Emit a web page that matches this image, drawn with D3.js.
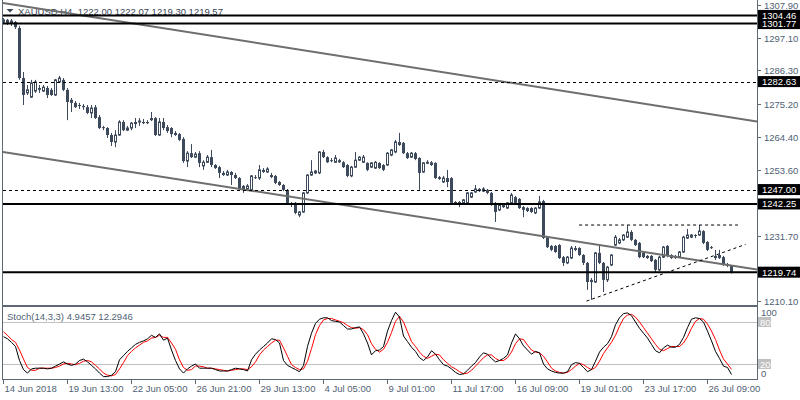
<!DOCTYPE html>
<html><head><meta charset="utf-8">
<script src="https://cdn.jsdelivr.net/npm/d3@7"></script>
<style>
body{margin:0;background:#fff}
svg{display:block}
text{font-family:'Liberation Sans',Arial,sans-serif;font-size:9.5px;white-space:pre}
</style>
</head><body><svg id="c" width="800" height="400"></svg>
<script>
const symbol = "XAUUSD";
const timeframe = "H4";
const opens=[1302.3,1303.0,1302.0,1302.3,1300.3,1283.8,1278.9,1277.5,1279.5,1280.5,
1279.5,1280.5,1279.9,1278.2,1282.5,1283.2,1279.9,1276.6,1275.6,1274.9,
1274.6,1274.2,1272.3,1274.2,1270.9,1267.6,1267.3,1265.0,1262.7,1265.0,
1269.3,1266.6,1267.3,1269.3,1269.3,1269.3,1269.3,1270.6,1270.6,1265.0,
1269.3,1267.6,1267.3,1265.7,1265.3,1263.7,1256.4,1259.0,1257.7,1259.0,
1254.8,1256.0,1257.7,1255.1,1254.4,1252.5,1251.8,1252.8,1251.8,1250.8,
1248.2,1247.2,1246.9,1251.1,1250.8,1253.5,1252.8,1251.8,1251.5,1249.5,
1248.5,1246.9,1242.6,1242.6,1238.6,1239.6,1245.9,1251.8,1252.5,1252.5,
1259.4,1257.7,1256.7,1256.0,1256.7,1256.0,1255.1,1251.5,1254.4,1256.7,
1256.0,1255.8,1254.4,1254.1,1255.8,1255.1,1255.1,1258.4,1259.4,1262.7,
1262.4,1259.0,1257.7,1259.0,1257.4,1252.8,1255.8,1256.0,1255.8,1251.1,
1249.5,1250.8,1250.8,1242.9,1242.9,1242.6,1242.6,1244.5,1246.2,1247.2,
1246.5,1246.9,1245.9,1242.6,1240.3,1241.9,1240.9,1242.6,1244.5,1243.9,
1241.2,1240.9,1240.9,1239.3,1240.9,1243.2,1231.3,1228.4,1228.4,1228.7,
1224.7,1222.8,1224.4,1227.7,1227.7,1225.4,1222.8,1217.2,1216.5,1226.1,
1222.8,1217.2,1222.1,1228.7,1229.4,1230.4,1231.3,1233.0,1230.4,1229.4,
1226.1,1225.1,1225.1,1223.8,1220.5,1224.7,1228.4,1225.4,1225.1,1224.7,
1226.4,1231.0,1231.3,1232.0,1232.0,1233.3,1229.7,1228.0,1225.1,1225.4,
1224.7,1222.4,1222.00];
const highs=[1303.6,1303.3,1303.3,1302.6,1301.0,1285.8,1281.5,1283.2,1283.2,1281.5,
1281.5,1281.2,1280.5,1283.5,1284.5,1283.8,1280.5,1277.2,1276.2,1275.6,
1275.2,1274.9,1274.9,1274.9,1271.6,1268.0,1267.6,1265.7,1266.6,1269.9,
1269.9,1268.0,1269.3,1270.6,1270.6,1270.3,1269.9,1272.6,1270.9,1270.6,
1270.6,1268.3,1267.6,1266.3,1265.7,1264.3,1259.7,1262.0,1259.4,1259.7,
1256.7,1258.4,1260.1,1255.4,1254.8,1253.1,1253.5,1253.1,1252.5,1251.1,
1248.5,1248.8,1251.8,1251.8,1255.1,1254.1,1254.4,1252.5,1251.8,1249.8,
1248.8,1247.2,1242.9,1242.9,1239.9,1246.2,1252.1,1256.7,1253.5,1259.7,
1260.1,1258.0,1257.4,1258.4,1257.1,1256.4,1255.4,1254.8,1259.4,1258.0,
1258.4,1256.0,1256.0,1256.4,1256.0,1255.4,1259.4,1260.4,1263.4,1265.7,
1262.7,1259.4,1259.4,1259.4,1257.7,1256.0,1256.7,1256.4,1256.0,1251.5,
1251.5,1253.5,1251.1,1243.2,1243.2,1243.9,1246.2,1246.2,1248.5,1247.5,
1247.8,1247.2,1246.2,1242.9,1242.2,1242.2,1242.9,1245.9,1244.9,1244.2,
1241.6,1241.2,1241.2,1241.2,1244.9,1243.6,1231.7,1228.7,1228.7,1229.0,
1225.1,1225.1,1228.4,1228.4,1228.0,1225.7,1223.1,1217.8,1226.4,1228.7,
1223.1,1221.8,1225.7,1232.0,1231.0,1232.3,1235.3,1233.6,1230.7,1229.7,
1226.4,1225.4,1225.4,1224.1,1225.1,1228.4,1228.7,1225.7,1225.4,1226.7,
1231.7,1234.0,1232.3,1232.3,1235.3,1233.6,1230.0,1228.4,1227.1,1227.1,
1225.1,1222.8,1222.07];
const lows=[1301.6,1301.3,1301.0,1300.0,1283.2,1274.9,1278.2,1277.2,1278.9,1278.9,
1279.2,1277.2,1277.9,1277.9,1282.2,1279.5,1269.9,1272.6,1273.9,1273.6,
1273.3,1271.9,1270.6,1270.3,1267.0,1266.6,1264.0,1261.4,1261.0,1264.7,
1266.3,1266.3,1266.6,1267.3,1268.0,1268.6,1268.6,1269.6,1264.7,1264.7,
1266.6,1265.7,1264.3,1264.7,1263.0,1255.8,1254.4,1257.4,1257.4,1254.4,
1253.5,1255.8,1254.4,1253.8,1250.8,1251.5,1251.5,1248.5,1250.5,1247.2,
1245.9,1246.5,1246.5,1250.5,1250.2,1252.5,1252.5,1250.8,1248.8,1248.2,
1246.5,1242.2,1241.2,1238.9,1237.9,1239.3,1245.5,1251.5,1252.1,1252.1,
1257.4,1255.8,1256.0,1255.8,1255.8,1254.1,1251.1,1251.1,1254.1,1256.4,
1255.8,1253.1,1254.1,1253.8,1253.8,1253.1,1254.8,1258.0,1259.0,1261.4,
1258.7,1257.1,1257.4,1256.7,1246.9,1252.5,1255.4,1254.8,1250.5,1250.2,
1249.2,1247.8,1242.2,1242.2,1241.2,1242.2,1242.2,1244.2,1245.9,1246.2,
1246.2,1245.5,1241.6,1236.3,1239.9,1240.9,1240.6,1242.2,1242.2,1240.6,
1237.9,1239.6,1239.3,1238.9,1240.6,1230.7,1227.7,1226.7,1226.1,1224.1,
1221.8,1222.4,1224.1,1226.7,1225.1,1222.1,1213.9,1210.6,1216.2,1222.4,
1213.2,1216.5,1221.8,1228.4,1229.0,1230.0,1231.0,1230.0,1228.4,1224.4,
1224.4,1224.1,1223.1,1219.5,1220.1,1224.4,1224.7,1224.1,1224.1,1224.4,
1226.1,1230.7,1231.0,1231.0,1231.7,1229.0,1226.7,1227.4,1223.8,1224.1,
1221.8,1221.4,1219.30];
const closes=[1303.0,1302.0,1302.6,1300.6,1283.8,1278.2,1279.9,1282.2,1282.5,1279.9,
1280.8,1278.2,1278.2,1283.2,1283.8,1279.9,1275.9,1275.6,1274.2,1274.6,
1274.2,1272.3,1273.9,1270.6,1267.3,1267.3,1265.0,1262.7,1265.0,1269.3,
1266.6,1267.3,1268.9,1268.6,1269.6,1268.9,1268.9,1269.9,1265.0,1269.3,
1267.3,1266.3,1265.3,1265.0,1263.4,1256.4,1259.0,1257.7,1258.7,1255.8,
1256.0,1257.7,1255.1,1254.1,1252.5,1251.8,1252.8,1251.8,1250.8,1247.5,
1247.2,1248.2,1251.5,1250.8,1253.5,1252.8,1253.8,1251.1,1249.2,1248.5,
1246.9,1242.6,1241.9,1239.3,1239.6,1245.9,1251.8,1252.8,1253.1,1259.4,
1257.7,1256.0,1256.4,1257.4,1256.0,1254.4,1251.5,1254.4,1256.7,1257.7,
1257.7,1253.5,1255.8,1256.0,1254.1,1253.5,1259.0,1260.1,1262.7,1261.7,
1259.0,1257.4,1259.0,1257.1,1252.5,1255.8,1256.0,1255.1,1250.8,1250.5,
1250.8,1249.5,1242.6,1242.6,1241.9,1243.6,1245.9,1245.9,1247.2,1246.5,
1247.2,1245.9,1241.9,1239.6,1241.9,1241.2,1242.6,1245.2,1242.6,1240.9,
1240.3,1239.9,1239.6,1240.9,1242.9,1231.0,1228.0,1227.1,1226.4,1224.4,
1222.8,1224.7,1227.7,1227.1,1225.4,1222.8,1216.5,1216.5,1226.1,1222.8,
1217.2,1221.4,1225.4,1231.3,1230.4,1232.0,1233.0,1230.4,1228.7,1224.7,
1224.7,1224.4,1223.4,1220.5,1224.7,1228.0,1225.1,1224.4,1224.4,1226.4,
1231.3,1232.0,1232.0,1231.7,1233.3,1229.4,1227.1,1227.7,1224.4,1224.4,
1222.1,1221.8,1219.57];
const stochK=[59,56,51,45,25,12,7,13,14,14, 14,13,14,17,20,23,20,18,20,25,
27,23,18,13,7,2,2,4,9,26, 32,38,43,48,51,53,56,61,58,63,
54,57,40,25,13,7,13,17,20,14, 14,14,14,12,10,10,10,12,14,13,
12,10,26,34,40,45,50,56,55,50, 25,18,15,12,9,18,45,64,78,84,
86,86,82,81,80,75,70,70,72,73, 63,50,33,39,40,45,67,82,94,87,
60,52,44,38,29,25,30,39,34,26, 19,17,13,8,5,6,11,17,22,30,
36,34,28,23,25,28,33,50,63,56, 46,40,34,38,36,20,13,10,8,7,
7,9,19,22,21,15,9,12,24,37, 44,49,59,76,86,92,93,89,80,71,
64,57,48,39,36,43,47,44,44,48, 58,72,84,86,85,80,67,53,38,28,
17,15,4.9457];
const stochD=[66,61,55,51,40,27,15,11,11,14, 14,14,14,15,17,20,21,20,19,21,
24,25,23,18,13,7,4,3,5,13, 22,32,38,43,47,51,53,57,58,61,
58,58,50,41,26,15,11,12,17,17, 16,14,14,13,12,11,10,11,12,13,
13,12,16,23,33,40,45,50,54,54, 43,31,19,15,12,13,24,42,62,75,
83,85,85,83,81,79,75,72,71,72, 69,62,49,41,37,41,51,65,81,88,
80,66,52,45,37,31,28,31,34,33, 26,21,16,13,9,6,7,11,17,23,
29,33,33,28,25,25,29,37,49,56, 55,47,40,37,36,31,23,14,10,8,
7,8,12,17,21,19,15,12,15,24, 35,43,51,61,74,85,90,91,87,80,
72,64,56,48,41,39,42,45,45,45, 50,59,71,81,85,84,77,67,55,40,
27,20,12.2946];
const priceTicks=[1307.90,1297.10,1286.30,1275.20,1264.40,1253.60,1231.70,1210.10];
const timeLabels=["14 Jun 2018","19 Jun 13:00","22 Jun 05:00","26 Jun 21:00","29 Jun 13:00","4 Jul 05:00","9 Jul 01:00","11 Jul 17:00","16 Jul 09:00","19 Jul 01:00","23 Jul 17:00","26 Jul 09:00"];
const timeLabelBars=[0,16,32,48,64,80,96,112,128,144,160,176];
const solidLevels=[1301.77,1304.46,1242.25,1219.74];
const dashedLevels=[1282.63,1247.00];
const channelUpper=[[0,1308.5],[182,1270.8]];
const channelLower=[[0,1259.4],[182,1221.9]];
const risingSupport=[[145.75,1210.2],[185.5,1228.9]];
const resistanceSeg=[[143.9,1235.3],[183.6,1235.3]];
const stochLevels=[80,20];
const stochAxis=[100,80,20,0];
const stochParams="14,3,3";

const svg=d3.select('#c');
const L=3,R=757,mainT=0,mainB=305,stT=307,stB=379;
const frame='#5d6874', candle='#3d4a5c', axisText='#4f5f73';
const n=closes.length;
const x=d3.scaleLinear().domain([0,n-1]).range([3.5,731.5]);
const y=d3.scaleLinear().domain([1210.10,1307.90]).range([301.4,5]);
const ys=d3.scaleLinear().domain([0,100]).range([378,308]);

const defs=svg.append('defs');
defs.append('clipPath').attr('id','cm').append('rect').attr('x',L).attr('y',mainT).attr('width',R-L).attr('height',mainB-mainT);
defs.append('clipPath').attr('id','cs').append('rect').attr('x',L).attr('y',stT).attr('width',R-L).attr('height',stB-stT);

// title
svg.append('path').attr('d','M6.5,9 L13.5,9 L10,12.5 Z').attr('fill','#3a4656');
svg.append('text').attr('x',18).attr('y',15).attr('fill','#3a4656')
  .text(`${symbol},${timeframe}  ${opens[n-1].toFixed(2)} ${highs[n-1].toFixed(2)} ${lows[n-1].toFixed(2)} ${closes[n-1].toFixed(2)}`);

const gm=svg.append('g').attr('clip-path','url(#cm)');
const idx=d3.range(n);
gm.selectAll('line.w').data(idx).join('line')
  .attr('x1',i=>x(i)).attr('x2',i=>x(i))
  .attr('y1',i=>y(highs[i])).attr('y2',i=>y(lows[i]))
  .attr('stroke',candle).attr('stroke-width',1);
gm.selectAll('rect.b').data(idx).join('rect')
  .attr('x',i=>closes[i]>=opens[i]? x(i)-1 : x(i)-1.5)
  .attr('width',i=>closes[i]>=opens[i]?2:3)
  .attr('y',i=>y(Math.max(opens[i],closes[i])))
  .attr('height',i=>Math.max(1,Math.abs(y(opens[i])-y(closes[i]))))
  .attr('fill',i=>closes[i]>=opens[i]?'#ffffff':candle)
  .attr('stroke',i=>closes[i]>=opens[i]?candle:'none')
  .attr('stroke-width',1);

const ext=(pts,x0,x1)=>{const [a,b]=pts;const s=(b[1]-a[1])/(b[0]-a[0]);const i0=x.invert(x0),i1=x.invert(x1);return [[x0,y(a[1]+s*(i0-a[0]))],[x1,y(a[1]+s*(i1-a[0]))]];};
[channelUpper,channelLower].forEach(p=>{
  const e=ext(p,L,R);
  gm.append('line').attr('x1',e[0][0]).attr('y1',e[0][1]).attr('x2',e[1][0]).attr('y2',e[1][1])
    .attr('stroke','#6e6e6e').attr('stroke-width',2);
});
[risingSupport,resistanceSeg].forEach(p=>{
  gm.append('line').attr('x1',x(p[0][0])).attr('y1',y(p[0][1])).attr('x2',x(p[1][0])).attr('y2',y(p[1][1]))
    .attr('stroke','#000').attr('stroke-width',1).attr('stroke-dasharray','3,3');
});
solidLevels.forEach(v=>gm.append('line').attr('x1',L).attr('x2',R).attr('y1',y(v)).attr('y2',y(v)).attr('stroke','#000').attr('stroke-width',2));
dashedLevels.forEach(v=>gm.append('line').attr('x1',L).attr('x2',R).attr('y1',Math.round(y(v))+0.5).attr('y2',Math.round(y(v))+0.5).attr('stroke','#000').attr('stroke-width',1).attr('stroke-dasharray','3,3'));

// price axis
priceTicks.forEach(v=>{
  const yy=Math.round(y(v))+0.5;
  svg.append('line').attr('x1',R).attr('x2',R+4).attr('y1',yy).attr('y2',yy).attr('stroke',frame);
  svg.append('text').attr('x',R+7).attr('y',yy+3.5).attr('fill',axisText).text(v.toFixed(2));
});
dashedLevels.concat(solidLevels).forEach(v=>{
  const yy=y(v);
  svg.append('rect').attr('x',R+1).attr('y',yy-5.5).attr('width',43).attr('height',11).attr('fill','#000');
  svg.append('text').attr('x',R+5).attr('y',yy+3.5).attr('fill','#fff').text(v.toFixed(2));
});

// stochastic
const gs=svg.append('g').attr('clip-path','url(#cs)');
stochLevels.forEach(v=>gs.append('line').attr('x1',L).attr('x2',R).attr('y1',Math.round(ys(v))+0.5).attr('y2',Math.round(ys(v))+0.5).attr('stroke','#c0c0c0'));
const ln=d3.line().x((d,i)=>x(i)).y(d=>ys(d));
gs.append('path').datum(stochD).attr('d',ln).attr('fill','none').attr('stroke','#ff0000').attr('stroke-width',1);
gs.append('path').datum(stochK).attr('d',ln).attr('fill','none').attr('stroke','#000').attr('stroke-width',1);
svg.append('text').attr('x',7).attr('y',319.5).attr('fill',axisText)
  .text(`Stoch(${stochParams}) ${stochK[n-1].toFixed(4)} ${stochD[n-1].toFixed(4)}`);
stochAxis.forEach(v=>{
  const yy=ys(v);
  if(v===80||v===20){
    svg.append('rect').attr('x',R+1).attr('y',yy-5).attr('width',13).attr('height',10).attr('fill','#c0c0c0');
    svg.append('text').attr('x',R+3).attr('y',yy+3.5).attr('fill','#ffffff').text(v);
  } else {
    svg.append('text').attr('x',R+4).attr('y',(v===100?yy+8:yy-1.5)).attr('fill',axisText).text(v);
  }
});

// frames
const fr=(x0,y0,x1,y1)=>svg.append('rect').attr('x',x0+0.5).attr('y',y0+0.5).attr('width',x1-x0-1).attr('height',y1-y0-1).attr('fill','none').attr('stroke',frame);
fr(2,-1,758,306);
fr(2,306,758,380);

// time axis
timeLabelBars.forEach((b,k)=>{
  const xx=Math.round(x(b))-0.5;
  svg.append('line').attr('x1',xx).attr('x2',xx).attr('y1',380).attr('y2',384).attr('stroke',frame);
  svg.append('text').attr('x',xx+1).attr('y',392).attr('fill',axisText).text(timeLabels[k]);
});
</script></body></html>
